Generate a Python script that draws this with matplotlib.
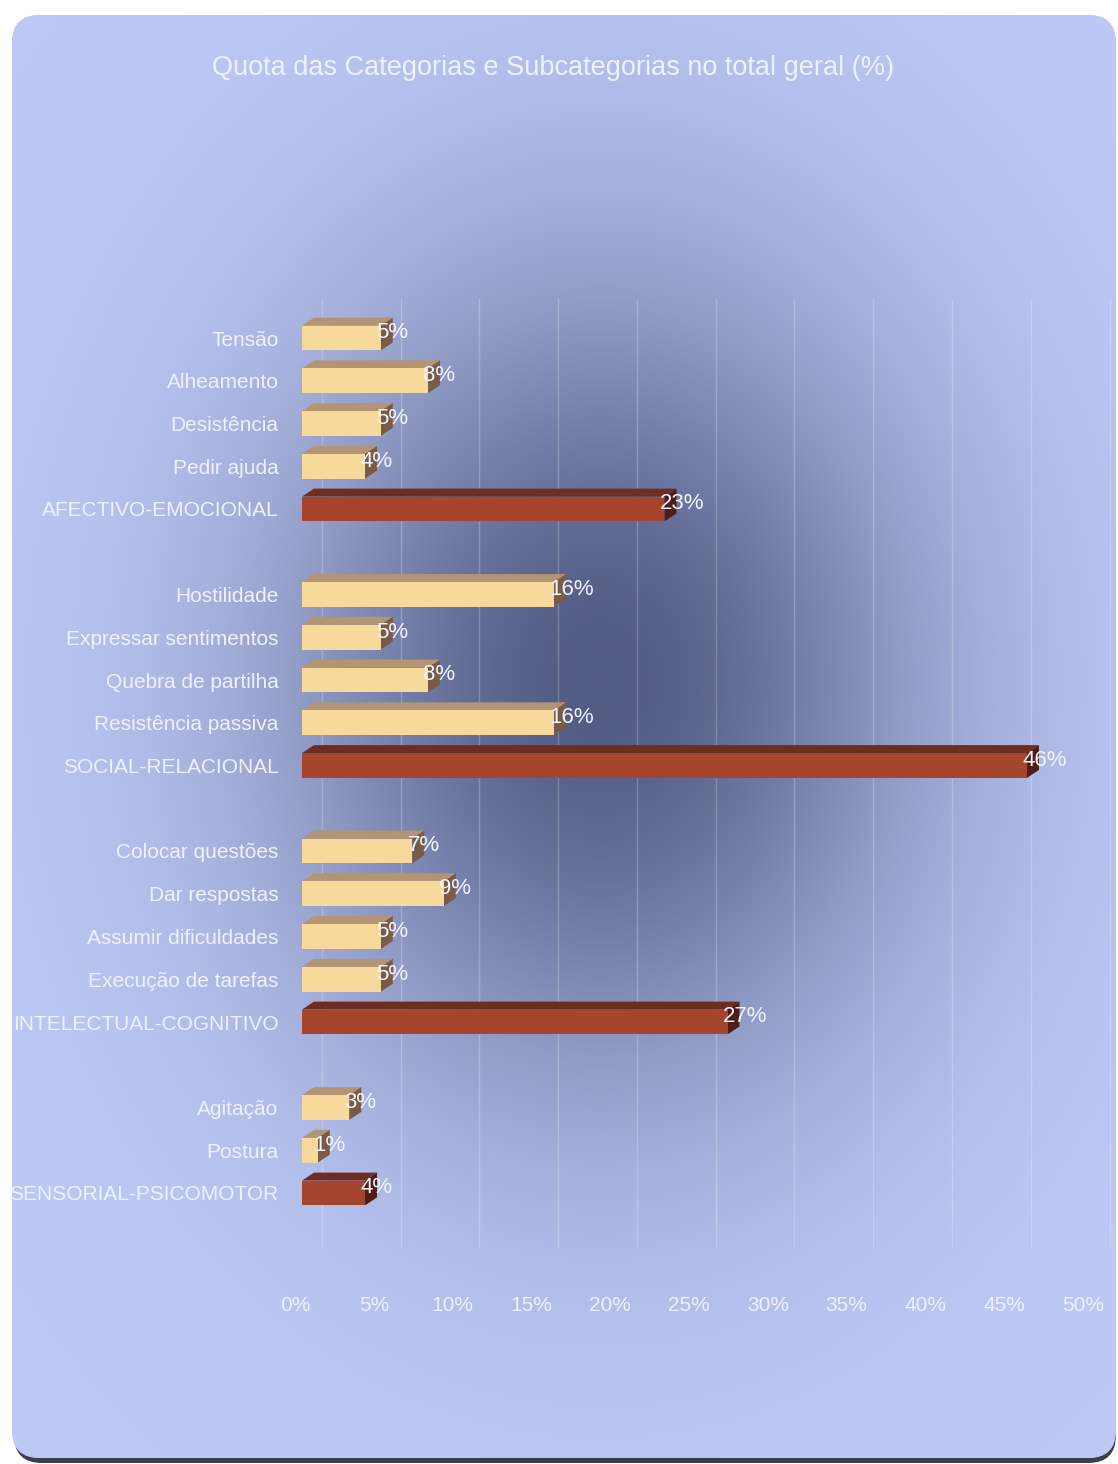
import numpy as np
import matplotlib
matplotlib.use("Agg")
from matplotlib import pyplot as plt
from matplotlib.patches import Polygon, FancyBboxPatch
from matplotlib.transforms import ScaledTranslation

plt.rcParams['font.family'] = ['Liberation Sans', 'DejaVu Sans']

# data (top to bottom)
labels = ['Tensão', 'Alheamento', 'Desistência', 'Pedir ajuda', 'AFECTIVO-EMOCIONAL',
          'Hostilidade', 'Expressar sentimentos', 'Quebra de partilha', 'Resistência passiva', 'SOCIAL-RELACIONAL',
          'Colocar questões', 'Dar respostas', 'Assumir dificuldades', 'Execução de tarefas', 'INTELECTUAL-COGNITIVO',
          'Agitação', 'Postura', 'SENSORIAL-PSICOMOTOR']
values = [5, 8, 5, 4, 23,
          16, 5, 8, 16, 46,
          7, 9, 5, 5, 27,
          3, 1, 4]
groups = [0, 0, 0, 0, 0,
          1, 1, 1, 1, 1,
          2, 2, 2, 2, 2,
          3, 3, 3]
is_total = [False, False, False, False, True,
            False, False, False, False, True,
            False, False, False, False, True,
            False, False, True]
xticks = [0, 5, 10, 15, 20, 25, 30, 35, 40, 45, 50]
title = 'Quota das Categorias e Subcategorias no total geral (%)'

W, H = 1118, 1464
fig = plt.figure(figsize=(W / 100, H / 100), dpi=100)
fig.patch.set_facecolor('white')

# background panel with radial darkening
bg = fig.add_axes([0, 0, 1, 1])
bg.set_xlim(0, W)
bg.set_ylim(H, 0)
bg.axis('off')
shadow = FancyBboxPatch((14, 22), 1102, 1441, boxstyle='round,pad=0,rounding_size=28',
                        fc='#3a3d4a', ec='none')
bg.add_patch(shadow)
panel = FancyBboxPatch((12, 15), 1104, 1443, boxstyle='round,pad=0,rounding_size=28',
                       fc='#b8c6f2', ec='none')
bg.add_patch(panel)
yy, xx = np.mgrid[0:H:2, 0:W:2]
d2 = ((xx - 600) / 380.0) ** 2 + ((yy - 680) / 480.0) ** 2
k = np.exp(-d2 * 1.4)[..., None]
light = np.array([0.74, 0.79, 0.96])
dark = np.array([0.32, 0.36, 0.52])
img = light * (1 - k) + dark * k
im = bg.imshow(img, extent=(0, W, H, 0), interpolation='bilinear', zorder=1)
im.set_clip_path(panel)

# chart axes: 0% at x=302px, 15.76 px per %
px = 15.76
x0 = 302
xmax = 51.5
top_px, bot_px = 290, 1260
row_px, row0_px = 42.75, 338
ylo = (top_px - row0_px) / row_px
yhi = (bot_px - row0_px) / row_px
ax = fig.add_axes([x0 / W, 1 - bot_px / H, xmax * px / W, (bot_px - top_px) / H])
ax.set_xlim(0, xmax)
ax.set_ylim(yhi, ylo)
ax.patch.set_alpha(0)
for s in ax.spines.values():
    s.set_visible(False)

slots = [i + g for i, g in enumerate(groups)]
hb = 0.29                      # half bar height (slot units)
dx = 12 / px                   # depth offset right
dy = 8 / row_px                # depth offset up

# back wall gridlines
for t in xticks:
    ax.plot([t + 1.25, t + 1.25], [ylo + 0.2, yhi - 0.3], color='white', alpha=0.22, lw=1, zorder=1)

front_l, top_l, side_l = '#f6d99b', '#b39574', '#7a5c46'
front_d, top_d, side_d = '#a5452e', '#6f2c21', '#4f1d17'

for y, v, tot in zip(slots, values, is_total):
    fc, tc, sc = (front_d, top_d, side_d) if tot else (front_l, top_l, side_l)
    t = y - hb
    b = y + hb
    ax.add_patch(Polygon([(0, t), (v, t), (v + dx, t - dy), (dx, t - dy)], closed=True,
                         fc=tc, ec='none', zorder=3))
    ax.add_patch(Polygon([(v, t), (v + dx, t - dy), (v + dx, b - dy), (v, b)], closed=True,
                         fc=sc, ec='none', zorder=3))
    ax.barh(y, v, height=2 * hb, left=0, color=fc, edgecolor='none', zorder=4)
    ax.text(v - 0.3, y - 0.12, '%d%%' % v, color='#f4f4ff', fontsize=16,
            ha='left', va='center', zorder=5)

ax.set_yticks(slots)
ax.set_yticklabels(labels, fontsize=15, color='#eef1ff')
ax.set_xticks(xticks)
ax.set_xticklabels(['%d%%' % t for t in xticks], fontsize=15, color='#eef1ff')
ax.tick_params(axis='y', length=0, pad=17)
ax.tick_params(axis='x', length=0, pad=26)
for lbl in ax.get_xticklabels():
    lbl.set_transform(lbl.get_transform() + ScaledTranslation(-0.07, 0, fig.dpi_scale_trans))

fig.text(553 / W, 1 - 68 / H, title, color='#eef1ff', fontsize=19.5, ha='center', va='center')

fig.savefig('out.png', dpi=100)
